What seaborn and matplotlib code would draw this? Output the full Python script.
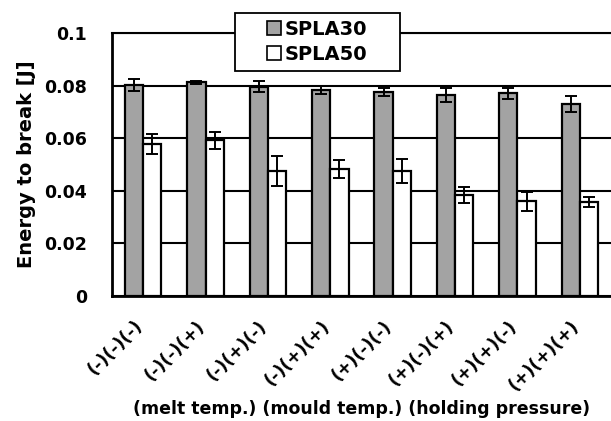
import numpy as np
import pandas as pd
import matplotlib
matplotlib.use("Agg")
import matplotlib.pyplot as plt
import matplotlib.transforms as mtransforms
import seaborn as sns
from matplotlib.patches import Rectangle
from matplotlib.ticker import FixedLocator

categories = ["(-)(-)(-)", "(-)(-)(+)", "(-)(+)(-)", "(-)(+)(+)",
              "(+)(-)(-)", "(+)(-)(+)", "(+)(+)(-)", "(+)(+)(+)"]
series = ["SPLA30", "SPLA50"]
spla30 = [0.0802, 0.0812, 0.0795, 0.0782, 0.0776, 0.0764, 0.0770, 0.0730]
spla30_err = [0.0022, 0.0007, 0.0021, 0.0015, 0.0016, 0.0026, 0.0022, 0.0029]
spla50 = [0.0579, 0.0592, 0.0475, 0.0484, 0.0475, 0.0384, 0.0360, 0.0357]
spla50_err = [0.0038, 0.0032, 0.0058, 0.0035, 0.0045, 0.0030, 0.0035, 0.0020]
y_ticks = [0, 0.02, 0.04, 0.06, 0.08, 0.1]
y_tick_labels = ["0", "0.02", "0.04", "0.06", "0.08", "0.1"]
x_label = "(melt temp.) (mould temp.) (holding pressure)"
y_label = "Energy to break [J]"

df = pd.DataFrame({
    "cond": categories * 2,
    "series": [series[0]] * len(categories) + [series[1]] * len(categories),
    "value": spla30 + spla50,
})
errs = [spla30_err, spla50_err]
colors = {"SPLA30": "#a3a3a3", "SPLA50": "#ffffff"}

sns.set_style("white")
plt.rcParams["font.family"] = ["DejaVu Sans"]
for k in ["text.color", "axes.labelcolor", "xtick.color", "ytick.color"]:
    plt.rcParams[k] = "black"

W, H = 611, 421
fig = plt.figure(figsize=(W / 100, H / 100), dpi=100)
ax = fig.add_axes([112 / W, 125 / H, (W - 112) / W, 263 / H])

sns.barplot(data=df, x="cond", y="value", hue="series", order=categories,
            hue_order=series, palette=colors, width=0.585, gap=0,
            errorbar=None, edgecolor="black", linewidth=1.6, legend=False,
            ax=ax, zorder=3)

for cont, err in zip(ax.containers, errs):
    xs = [p.get_x() + p.get_width() / 2 for p in cont.patches]
    ys = [p.get_height() for p in cont.patches]
    ax.errorbar(xs, ys, yerr=err, fmt="none", ecolor="black",
                elinewidth=1.4, capsize=4.5, capthick=1.4, zorder=4)

ax.set_ylim(0, 0.1)
ax.set_xlim(-0.5, -0.5 + (W - 112) / 63.3)
ax.yaxis.set_major_locator(FixedLocator(y_ticks))
ax.set_yticklabels(y_tick_labels, fontsize=12.5, fontweight="bold", color="black")
ax.tick_params(axis="y", direction="inout", length=8, width=1.4, pad=14, colors="black")
ax.grid(axis="y", color="black", linewidth=1.5)
ax.set_axisbelow(True)

ax.set_xticks(range(len(categories)))
ax.set_xticklabels(categories, rotation=45, ha="right", rotation_mode="anchor",
                   fontsize=12.5, fontweight="bold", color="black")
ax.tick_params(axis="x", length=0, pad=15)
shift = mtransforms.ScaledTranslation(-10 / 100, 0, fig.dpi_scale_trans)
for lbl in ax.get_xticklabels():
    lbl.set_transform(lbl.get_transform() + shift)
ax.set_xticks(np.arange(len(categories) + 1) - 0.5, minor=True)
ax.tick_params(axis="x", which="minor", direction="out", length=5, width=1.2, colors="black")

ax.spines["right"].set_visible(False)
ax.spines["top"].set_linewidth(1.5)
for s in ["left", "bottom"]:
    ax.spines[s].set_linewidth(2)
    ax.spines[s].set_color("black")
ax.spines["top"].set_color("black")

ax.set_xlabel(x_label, fontsize=12.5, fontweight="bold", labelpad=4, color="black")
ax.set_ylabel(y_label, fontsize=14, fontweight="bold", labelpad=6, color="black")

box = Rectangle((235 / W, (H - 71) / H), 165 / W, 58 / H, transform=fig.transFigure,
                facecolor="white", edgecolor="black", linewidth=1.3, zorder=4)
fig.patches.append(box)
handles = [plt.Rectangle((0, 0), 1, 1, facecolor=colors[s], edgecolor="black",
                         linewidth=1.2) for s in series]
fig.legend(handles, series, loc="center", bbox_to_anchor=(317.5 / W, (H - 42) / H),
           frameon=False, prop={"size": 14, "weight": "bold"}, handlelength=0.7,
           handleheight=0.7, handletextpad=0.2, labelspacing=0.3, labelcolor="black")

fig.savefig("out.png", dpi=100)
